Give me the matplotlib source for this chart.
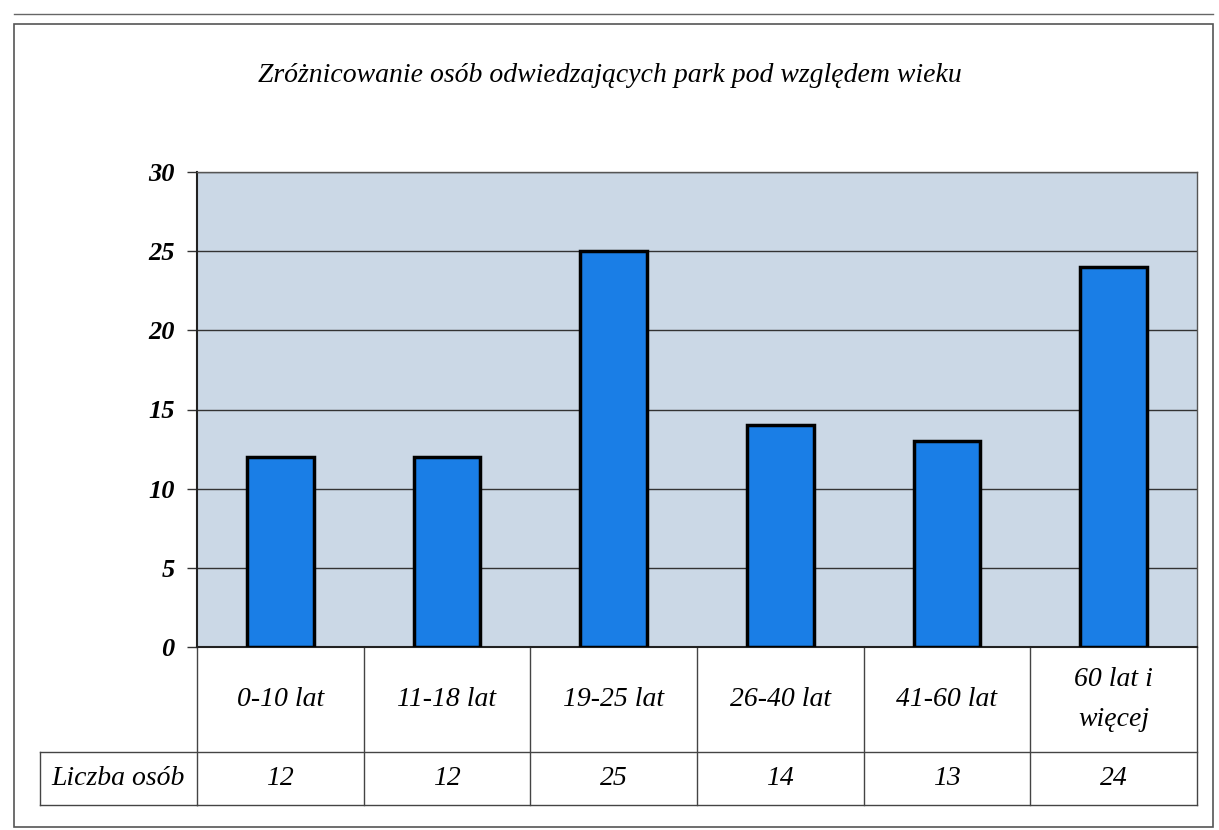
import matplotlib
matplotlib.use("Agg")
import matplotlib.pyplot as plt
from matplotlib.patches import Rectangle
from matplotlib.lines import Line2D
import matplotlib.transforms as mtransforms

title = "Zróżnicowanie osób odwiedzających park pod względem wieku"
categories = ["0-10 lat", "11-18 lat", "19-25 lat", "26-40 lat", "41-60 lat", "60 lat i\nwięcej"]
values = [12, 12, 25, 14, 13, 24]
row_label = "Liczba osób"
yticks = [0, 5, 10, 15, 20, 25, 30]

FONT = "Liberation Serif"
W, H = 1219, 830
fig = plt.figure(figsize=(W / 100, H / 100), dpi=100)
fig.patch.set_facecolor("white")

# outer frame
fig.patches.append(Rectangle((14 / W, 1 - 827 / H), (1213 - 14) / W, (827 - 24) / H,
                             transform=fig.transFigure, fill=False, edgecolor="#555555", lw=1.2))
fig.lines.append(Line2D([14 / W, 1213 / W], [1 - 14 / H, 1 - 14 / H], transform=fig.transFigure,
                        color="#666666", lw=1.0))

left, right, top, bottom = 197, 1197, 172, 647
ax = fig.add_axes([left / W, 1 - bottom / H, (right - left) / W, (bottom - top) / H])
ax.set_facecolor("#cbd8e6")
x = list(range(len(categories)))
ax.bar(x, values, width=0.4, color="#1a7ee6", edgecolor="black", linewidth=2.5, zorder=3)
ax.set_xlim(-0.5, len(categories) - 0.5)
ax.set_ylim(0, 30)
ax.set_yticks(yticks)
ax.set_yticklabels([str(t) for t in yticks], fontfamily=FONT, fontstyle="italic",
                   fontweight="bold", fontsize=19)
ax.tick_params(axis="y", length=7, width=1, color="#333333", pad=9)
ax.set_xticks([])
ax.yaxis.grid(True, color="#333333", lw=1.0, zorder=1)
for s in ["top", "right"]:
    ax.spines[s].set_color("#555555")
    ax.spines[s].set_linewidth(1.0)
ax.spines["left"].set_color("#222222")
ax.spines["left"].set_linewidth(1.5)
ax.spines["bottom"].set_color("#222222")
ax.spines["bottom"].set_linewidth(1.5)

fig.text(0.5, 1 - 75 / H, title, ha="center", va="center", fontfamily=FONT,
         fontstyle="italic", fontsize=20)

# data table drawn below the axes: x in data units, y in axes fraction
trans = mtransforms.blended_transform_factory(ax.transData, ax.transAxes)
px_per_unit = (right - left) / len(categories)
axh = bottom - top
y_head = -(752 - bottom) / axh
y_bot = -(805 - bottom) / axh
x_lab = -0.5 - (197 - 40) / px_per_unit
n = len(categories)
lc = "#444444"
# horizontal lines
ax.plot([-0.5, n - 0.5], [y_bot, y_bot], transform=trans, color=lc, lw=1, clip_on=False)
ax.plot([x_lab, n - 0.5], [y_head, y_head], transform=trans, color=lc, lw=1, clip_on=False)
ax.plot([x_lab, -0.5], [y_bot, y_bot], transform=trans, color=lc, lw=1, clip_on=False)
ax.plot([x_lab, x_lab], [y_head, y_bot], transform=trans, color=lc, lw=1, clip_on=False)
for i in range(n + 1):
    ax.plot([i - 0.5, i - 0.5], [0, y_bot], transform=trans, color=lc, lw=1, clip_on=False)
for i, (c, v) in enumerate(zip(categories, values)):
    ax.text(i, y_head / 2, c, transform=trans, ha="center", va="center", fontfamily=FONT,
            fontstyle="italic", fontsize=20, linespacing=1.75)
    ax.text(i, (y_head + y_bot) / 2, str(v), transform=trans, ha="center", va="center",
            fontfamily=FONT, fontstyle="italic", fontsize=20)
ax.text((x_lab - 0.5) / 2, (y_head + y_bot) / 2, row_label, transform=trans, ha="center",
        va="center", fontfamily=FONT, fontstyle="italic", fontsize=20)

fig.savefig("out.png", dpi=100, facecolor="white")
